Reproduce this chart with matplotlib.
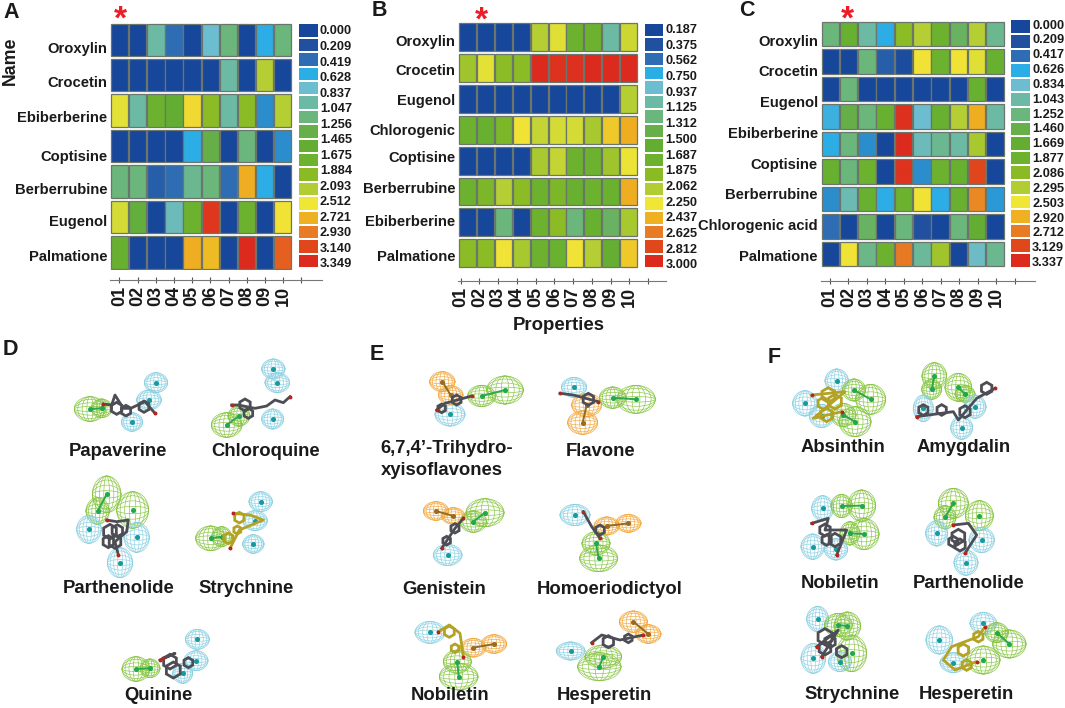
import matplotlib
matplotlib.use('Agg')
import matplotlib.pyplot as plt
from matplotlib.colors import LinearSegmentedColormap
from matplotlib.patches import Ellipse, RegularPolygon

W, H = 1065, 708

plt.rcParams['font.family'] = ['Liberation Sans', 'DejaVu Sans']
plt.rcParams['font.weight'] = 'bold'

palette = ['#17479a', '#20509f', '#2e6cb3', '#2bade6', '#6dbdd1', '#6cbaa5', '#6ab67c',
           '#66af49', '#62ad32', '#6cb22e', '#8abb24', '#b2cd33', '#f0e636', '#efb021',
           '#e87c24', '#e0481c', '#dc2a1e']
cmap = LinearSegmentedColormap.from_list('levels', palette, N=256)

properties = ['01', '02', '03', '04', '05', '06', '07', '08', '09', '10']

# cell colours as positions along the 17 step legend
names_a = ['Oroxylin', 'Crocetin', 'Ebiberberine', 'Coptisine', 'Berberrubine', 'Eugenol', 'Palmatione']
levels_a = [[0, 0, 5, 2, 0, 4, 6, 0, 3, 6],
            [0, 0, 0, 0, 0, 0, 5, 0, 11, 0],
            [11.8, 5, 9, 8, 12.2, 10, 5, 10, 2.5, 11],
            [0, 0, 0, 0, 3, 7, 0, 6, 0, 2.5],
            [6, 6, 1.5, 2, 5.5, 6, 2, 13, 3, 0],
            [11.5, 7.5, 0, 4.5, 9, 15.5, 0, 9, 0, 12],
            [8.5, 0, 0, 0, 13, 12.8, 0, 16, 0, 14.5]]
legend_a = ['0.000', '0.209', '0.419', '0.628', '0.837', '1.047', '1.256', '1.465',
            '1.675', '1.884', '2.093', '2.512', '2.721', '2.930', '3.140', '3.349']

names_b = ['Oroxylin', 'Crocetin', 'Eugenol', 'Chlorogenic', 'Coptisine', 'Berberrubine', 'Ebiberberine', 'Palmatione']
levels_b = [[0, 0, 0, 0, 11, 11.7, 9, 9, 5, 11.4],
            [10.5, 11.8, 10, 10, 16, 15.7, 15.8, 16, 16, 16],
            [0, 0, 0, 0, 0, 0, 0, 0, 0, 11],
            [9, 8.5, 9.5, 12, 11.3, 11.5, 11.5, 10.7, 12.5, 13],
            [0, 0, 0, 0, 10.8, 11.3, 9, 9, 10.5, 11.9],
            [9, 9.5, 11, 10, 9, 9.5, 8.5, 9, 8.7, 13],
            [0, 0, 6, 0, 9, 10, 6, 8.5, 6.5, 10.7],
            [10, 10, 12, 10.7, 9, 8.7, 12, 11, 8.3, 12.5]]
legend_b = ['0.187', '0.375', '0.562', '0.750', '0.937', '1.125', '1.312', '1.500',
            '1.687', '1.875', '2.062', '2.250', '2.437', '2.625', '2.812', '3.000']

names_c = ['Oroxylin', 'Crocetin', 'Eugenol', 'Ebiberberine', 'Coptisine', 'Berberrubine', 'Chlorogenic acid', 'Palmatione']
levels_c = [[6, 8.5, 5, 3, 10, 11, 9, 6.5, 11, 5.5],
            [0, 0, 6, 1.5, 0.5, 12, 9, 12, 11.7, 8.5],
            [0, 6, 0, 0, 0, 0, 0, 0, 8.5, 0],
            [3.3, 7, 6, 8.5, 15.8, 4, 8.5, 11, 13, 5],
            [3, 6, 2.5, 0, 16, 4.5, 5.5, 5, 10.7, 0],
            [8.5, 6, 9, 0, 15.7, 2.5, 9, 8.5, 15, 0],
            [2.5, 4.7, 8.5, 3, 9, 12, 3, 8.5, 13.7, 2.7],
            [2, 0, 6.5, 0, 6, 1, 0, 6, 8, 0],
            [0, 12, 5.7, 9, 14, 5.3, 10.5, 0, 4.3, 5.5]]
legend_c = ['0.000', '0.209', '0.417', '0.626', '0.834', '1.043', '1.252', '1.460', '1.669',
            '1.877', '2.086', '2.295', '2.503', '2.920', '2.712', '3.129', '3.337']

# label heights are not centred on the rows in the source figure
label_px_a = [47, 81.7, 116.7, 156, 188, 220.7, 256]
label_px_b = [40.7, 70, 99.3, 129.3, 156.7, 187.7, 221, 255.3]
label_px_c = [40.7, 71, 101.7, 132.7, 163.3, 193.7, 225, 255.7]

# pharmacophore spheres: kind, x, y, rx, ry
papaverine = [('G', 270, 207, 47, 37), ('G', 305, 205, 32, 28), ('B', 468, 128, 35, 30), ('B', 447, 180, 37, 30), ('B', 396, 246, 32, 28)]
chloroquine = [('G', 680, 255, 46, 37), ('G', 717, 228, 33, 30), ('B', 820, 87, 35, 30), ('B', 832, 128, 37, 30), ('B', 818, 237, 33, 30)]
parthenolide_d = [('G', 320, 463, 43, 55), ('G', 293, 513, 35, 40), ('G', 398, 510, 48, 55), ('B', 267, 568, 37, 42), ('B', 410, 592, 38, 45), ('B', 360, 668, 38, 45)]
strychnine_d = [('G', 632, 595, 45, 37), ('G', 665, 590, 30, 30), ('B', 782, 485, 35, 30), ('B', 765, 542, 37, 30), ('B', 760, 612, 32, 28)]
quinine = [('G', 408, 987, 42, 37), ('G', 450, 985, 30, 28), ('B', 592, 898, 36, 30), ('B', 588, 962, 36, 30), ('B', 548, 1000, 30, 30)]

trihydroxy = [('O', 247, 125, 38, 30), ('O', 272, 165, 37, 28), ('G', 365, 168, 42, 32), ('G', 435, 150, 55, 42), ('B', 270, 223, 45, 35)]
flavone = [('B', 642, 142, 38, 30), ('O', 680, 195, 45, 35), ('O', 668, 248, 45, 35), ('G', 758, 173, 40, 32), ('G', 828, 178, 58, 42)]
genistein = [('O', 228, 513, 38, 28), ('O', 280, 528, 35, 25), ('G', 340, 545, 40, 32), ('G', 375, 518, 57, 42), ('B', 263, 645, 43, 32)]
homoeriodictyol = [('B', 645, 525, 45, 32), ('O', 740, 558, 38, 27), ('O', 805, 550, 38, 27), ('G', 708, 610, 42, 35), ('G', 716, 655, 57, 40)]
nobiletin_e = [('B', 210, 877, 45, 33), ('O', 340, 923, 38, 28), ('O', 402, 912, 38, 28), ('G', 292, 965, 42, 35), ('G', 296, 1010, 58, 40)]
hesperetin_e = [('O', 820, 845, 42, 32), ('O', 865, 882, 38, 28), ('B', 632, 933, 43, 27), ('G', 730, 950, 55, 35), ('G', 718, 980, 65, 42)]

absinthin = [('B', 380, 122, 35, 35), ('B', 285, 190, 37, 38), ('B', 335, 228, 37, 35), ('G', 432, 150, 35, 33), ('G', 482, 178, 45, 45), ('G', 400, 225, 38, 35), ('G', 435, 245, 48, 45)]
amygdalin = [('G', 673, 108, 37, 40), ('G', 665, 148, 30, 30), ('G', 745, 142, 40, 42), ('G', 765, 162, 30, 25), ('B', 640, 205, 30, 40), ('B', 795, 200, 33, 35), ('B', 755, 263, 33, 35)]
nobiletin_f = [('B', 338, 505, 33, 38), ('G', 395, 498, 32, 35), ('G', 455, 497, 42, 47), ('G', 420, 580, 30, 35), ('G', 462, 582, 45, 47), ('B', 308, 620, 35, 38), ('B', 378, 628, 35, 32)]
parthenolide_f = [('G', 730, 490, 45, 45), ('G', 705, 532, 33, 35), ('G', 808, 527, 42, 45), ('B', 680, 580, 33, 38), ('B', 815, 600, 38, 38), ('B', 768, 668, 36, 38)]
strychnine_f = [('B', 323, 837, 33, 38), ('G', 385, 855, 42, 35), ('G', 412, 858, 40, 42), ('B', 310, 955, 37, 45), ('B', 390, 965, 35, 30), ('G', 425, 940, 45, 55)]
hesperetin_f = [('B', 820, 850, 40, 33), ('B', 688, 900, 40, 42), ('B', 730, 968, 40, 30), ('G', 860, 878, 35, 30), ('G', 898, 912, 50, 42), ('G', 820, 960, 50, 42)]

# molecule sticks: colour, rings (x, y, size), chain points
GREY = '#4d4d55'
OLIVE = '#b3a224'
mol_d = [(GREY, [(350, 205, 18), (378, 212, 16), (432, 200, 17)], [(310, 192), (335, 195), (345, 165), (370, 205), (392, 205), (435, 185), (465, 220)]),
         (GREY, [(735, 195, 18), (745, 220, 15)], [(695, 195), (715, 195), (765, 205), (800, 198), (825, 180), (850, 188), (870, 170)]),
         (GREY, [(330, 575, 22), (345, 605, 20), (325, 605, 18), (352, 572, 18)], [(320, 540), (350, 545), (385, 540), (380, 575), (345, 605), (355, 645)]),
         (OLIVE, [(718, 533, 16), (685, 595, 16), (712, 570, 12)], [(700, 520), (750, 525), (790, 540), (718, 570), (690, 625)]),
         (GREY, [(510, 965, 22), (520, 990, 24), (565, 968, 15)], [(480, 960), (525, 940), (490, 955)])]
mol_e = [(GREY, [(290, 180, 15), (245, 205, 13)], [(335, 168), (255, 190), (230, 210)]),
         (GREY, [(685, 178, 18)], [(600, 160), (640, 165), (715, 185)]),
         (GREY, [(285, 565, 14), (260, 602, 13)], [(310, 535), (285, 565), (245, 625)]),
         (GREY, [(720, 570, 15)], [(670, 515), (695, 560), (720, 595)]),
         (OLIVE, [(268, 875, 17), (285, 925, 13)], [(235, 875), (268, 855), (300, 880), (310, 950)]),
         (GREY, [(745, 905, 18), (805, 895, 13)], [(695, 908), (725, 885), (780, 900), (850, 885)])]
mol_f = [(OLIVE, [(355, 165, 22), (375, 185, 22), (350, 225, 20), (340, 190, 18)], [(305, 165), (405, 155), (310, 235), (395, 215)]),
         (GREY, [(640, 210, 16), (695, 210, 16), (765, 215, 18), (830, 145, 18)], [(620, 230), (730, 215), (745, 240), (800, 175), (855, 145)]),
         (GREY, [(345, 570, 18), (375, 600, 20), (350, 600, 16)], [(305, 550), (355, 535), (345, 570), (410, 570), (380, 645)]),
         (GREY, [(745, 590, 22), (750, 615, 18), (730, 605, 16)], [(730, 555), (775, 550), (800, 585), (765, 640)]),
         (GREY, [(345, 890, 24), (345, 925, 20), (395, 935, 18), (360, 905, 18)], [(320, 920), (385, 870), (335, 950)]),
         (OLIVE, [(805, 890, 16), (760, 930, 18), (770, 975, 16)], [(825, 860), (805, 890), (725, 920), (700, 960), (735, 990), (800, 965)])]

sphere_colors = {'G': '#86c540', 'B': '#8ad0e2', 'O': '#f2a83c'}
link_colors = {'G': '#2ea84f', 'O': '#8f6b25'}
dot_colors = {'G': '#1fa84c', 'B': '#159a9c', 'O': '#9a6a20'}


def px_axes(fig, x0, y0, x1, y1):
    """Axes placed by pixel box, y measured from the top of the image."""
    return fig.add_axes([x0 / W, 1 - y1 / H, (x1 - x0) / W, (y1 - y0) / H])


def draw_heatmap(fig, levels, names, label_px, legend_labels, box, axis_gap, tick0, tick_step, axis_end, lbox, lab_first, lab_last):
    x0, y0, x1, y1 = box
    cell_w = (x1 - x0) / 10
    cell_h = (y1 - y0) / len(levels)
    # axes runs past the cells so the axis line can reach its extra tick
    ax = px_axes(fig, x0 - 1, y0, axis_end, y1)
    ax.set_xlim(-1 / cell_w, (axis_end - x0) / cell_w)
    ax.set_ylim(len(levels), 0)
    gap = 3 / cell_h
    for r, row in enumerate(levels):
        cols = [cmap(v / 16) for v in row]
        ax.bar(range(10), 1 - gap, bottom=r + gap / 2, width=0.96, align='edge', color=cols,
               edgecolor='#6a766c', linewidth=0.9)
    for s in ['top', 'left', 'right']:
        ax.spines[s].set_visible(False)
    ax.spines['bottom'].set_position(('outward', axis_gap * 72 / 100))
    ax.spines['bottom'].set_color('#777777')
    ticks = [(tick0 + i * tick_step - x0) / cell_w for i in range(11)]
    ax.set_xticks(ticks)
    ax.set_xticklabels(properties + [''], rotation=90, fontsize=13, color='#1a1a1a')
    ax.tick_params(axis='x', direction='inout', length=5, width=0.8, color='#555555', pad=2)
    ax.set_yticks([(y - y0) / cell_h for y in label_px])
    ax.set_yticklabels(names, fontsize=10.6, color='#1a1a1a')
    ax.tick_params(axis='y', length=0, pad=2)

    lx0, ly0, lx1, ly1 = lbox
    cax = px_axes(fig, lx0, ly0, lx1, ly1)
    n = len(palette)
    pitch = (ly1 - ly0) / n
    cax.barh(range(n), 1, height=0.86, left=0, color=palette, edgecolor='none')
    cax.set_xlim(0, 1)
    cax.set_ylim(n - 0.5, -0.5)
    cax.set_xticks([])
    m = len(legend_labels)
    pos = [lab_first + i * (lab_last - lab_first) / (m - 1) for i in range(m)]
    cax.set_yticks([(p - ly0) / pitch - 0.5 for p in pos])
    cax.set_yticklabels(legend_labels, fontsize=9.2, color='#1a1a1a')
    cax.yaxis.tick_right()
    cax.tick_params(axis='y', length=0, pad=1.5)
    for s in cax.spines.values():
        s.set_visible(False)


def draw_sphere(ax, kind, x, y, rx, ry):
    c = sphere_colors[kind]
    for f in (1, 0.78, 0.5, 0.2):
        ax.add_patch(Ellipse((x, y), 2 * rx * f, 2 * ry, fill=False, ec=c, lw=0.5, alpha=0.9))
    for f in (0.78, 0.5, 0.2):
        ax.add_patch(Ellipse((x, y), 2 * rx, 2 * ry * f, fill=False, ec=c, lw=0.5, alpha=0.9))


def draw_group(ax, spheres):
    for kind, x, y, rx, ry in spheres:
        draw_sphere(ax, kind, x, y, rx, ry)
    for kind in ('G', 'O'):
        pts = [(s[1], s[2]) for s in spheres if s[0] == kind]
        for a, b in zip(pts[0::2], pts[1::2]):
            ax.plot([a[0], b[0]], [a[1], b[1]], color=link_colors[kind], lw=1.4)
    for kind, x, y, rx, ry in spheres:
        ax.plot(x, y, 'o', ms=2.6, color=dot_colors[kind])


def draw_molecule(ax, color, rings, chain):
    for x, y, r in rings:
        ax.add_patch(RegularPolygon((x, y), 6, radius=r, fill=False, ec=color, lw=2.0, zorder=5))
    xs, ys = zip(*chain)
    ax.plot(xs, ys, color=color, lw=2.0, zorder=5)
    ax.plot(xs[0], ys[0], 'o', ms=1.8, color='#b3261e', zorder=6)
    ax.plot(xs[-1], ys[-1], 'o', ms=1.8, color='#b3261e', zorder=6)


def mol_panel(fig, box, groups, molecules, labels):
    x0, y0, x1, y1 = box
    ax = px_axes(fig, x0, y0, x1, y1)
    ax.set_xlim(0, (x1 - x0) * 3)
    ax.set_ylim((y1 - y0) * 3, 0)
    ax.axis('off')
    for g in groups:
        draw_group(ax, g)
    for color, rings, chain in molecules:
        draw_molecule(ax, color, rings, chain)
    for text, x, y, ha in labels:
        ax.text(x, y, text, ha=ha, va='center', fontsize=13.3, color='#1a1a1a')


fig = plt.figure(figsize=(W / 100, H / 100), dpi=100, facecolor='white')

draw_heatmap(fig, levels_a, names_a, label_px_a, legend_a, (111, 22, 292, 270), 10, 119.3, 18.2, 322,
             (299.3, 23.3, 317.7, 268.3), 30, 262.7)
draw_heatmap(fig, levels_b, names_b, label_px_b, legend_b, (459.3, 21.7, 637.7, 268.7), 12, 460.7, 18.75, 666,
             (645.3, 22.7, 663.3, 268.3), 28.3, 264)
draw_heatmap(fig, levels_c, names_c, label_px_c, legend_c, (821.7, 20, 1004.3, 267.7), 13, 830, 18.45, 1035,
             (1010.7, 19.3, 1030, 267.7), 24, 261.7)

mol_panel(fig, (0, 340, 360, 708),
          [papaverine, chloroquine, parthenolide_d, strychnine_d, quinine], mol_d,
          [('Papaverine', 353, 333, 'center'), ('Chloroquine', 798, 333, 'center'),
           ('Parthenolide', 355, 745, 'center'), ('Strychnine', 738, 745, 'center'),
           ('Quinine', 475, 1068, 'center')])
mol_panel(fig, (360, 340, 710, 708),
          [trihydroxy, flavone, genistein, homoeriodictyol, nobiletin_e, hesperetin_e], mol_e,
          [('6,7,4’-Trihydro-', 62, 325, 'left'), ('xyisoflavones', 62, 392, 'left'),
           ('Flavone', 722, 333, 'center'), ('Genistein', 253, 747, 'center'),
           ('Homoeriodictyol', 750, 747, 'center'), ('Nobiletin', 270, 1068, 'center'),
           ('Hesperetin', 732, 1068, 'center')])
mol_panel(fig, (710, 340, 1065, 708),
          [absinthin, amygdalin, nobiletin_f, parthenolide_f, strychnine_f, hesperetin_f], mol_f,
          [('Absinthin', 398, 322, 'center'), ('Amygdalin', 762, 322, 'center'),
           ('Nobiletin', 390, 730, 'center'), ('Parthenolide', 775, 730, 'center'),
           ('Strychnine', 425, 1063, 'center'), ('Hesperetin', 768, 1063, 'center')])


def fig_text(x, y, s, **kw):
    fig.text(x / W, 1 - y / H, s, color=kw.pop('color', '#1a1a1a'), **kw)


for letter, x, y in [('A', 3, 12), ('B', 372, 10), ('C', 739, 10), ('D', 3, 350), ('E', 370, 354), ('F', 768, 358)]:
    fig_text(x, y, letter, fontsize=15.5, ha='left', va='center')
for x, y in [(120, 20), (481, 21), (847, 20)]:
    fig_text(x, y, '*', fontsize=24, ha='center', va='center', color='#ee1c25')
fig_text(10, 61, 'Name', fontsize=12.8, rotation=90, ha='center', va='center')
fig_text(559, 325, 'Properties', fontsize=13.4, ha='center', va='center')

fig.savefig('out.png', dpi=100, facecolor='white')
